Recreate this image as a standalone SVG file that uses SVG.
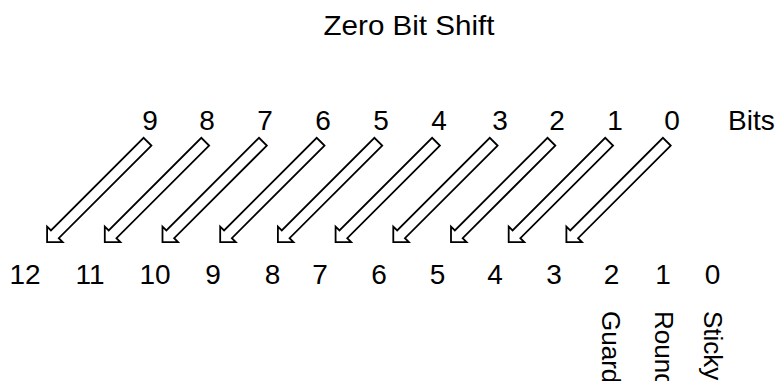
<svg xmlns="http://www.w3.org/2000/svg" xmlns:xlink="http://www.w3.org/1999/xlink" width="777" height="381" viewBox="0 0 777 381">
<style>
text{font-family:"Liberation Sans",Arial,sans-serif;fill:#000}
.d{font-size:28px;text-anchor:middle}
.v{font-size:26px}
.a{fill:#fff;stroke:#000;stroke-width:1.8;stroke-linejoin:miter}
</style>
<defs>
<path id="arr" d="M0,-5.5 H131 V-11 L142,0 L131,11 V5.5 H0 Z"/>
</defs>
<rect width="777" height="381" fill="#fff"/>
<g id="title"><text x="409" y="35" font-size="28" text-anchor="middle" textLength="171" lengthAdjust="spacingAndGlyphs">Zero Bit Shift</text></g>
<g id="top-bits">
<text class="d" x="150" y="130">9</text>
<text class="d" x="207" y="130">8</text>
<text class="d" x="265" y="130">7</text>
<text class="d" x="323" y="130">6</text>
<text class="d" x="381" y="130">5</text>
<text class="d" x="439" y="130">4</text>
<text class="d" x="500" y="130">3</text>
<text class="d" x="557" y="130">2</text>
<text class="d" x="615" y="130">1</text>
<text class="d" x="672" y="130">0</text>
<text x="728" y="129.5" font-size="28">Bits</text>
</g>
<g id="connectors" class="a">
<use xlink:href="#arr" transform="translate(147.5,141.7) rotate(135)"/>
<use xlink:href="#arr" transform="translate(205.2,141.7) rotate(135)"/>
<use xlink:href="#arr" transform="translate(262.9,141.7) rotate(135)"/>
<use xlink:href="#arr" transform="translate(320.6,141.7) rotate(135)"/>
<use xlink:href="#arr" transform="translate(378.3,141.7) rotate(135)"/>
<use xlink:href="#arr" transform="translate(436,141.7) rotate(135)"/>
<use xlink:href="#arr" transform="translate(493.7,141.7) rotate(135)"/>
<use xlink:href="#arr" transform="translate(551.4,141.7) rotate(135)"/>
<use xlink:href="#arr" transform="translate(609.1,141.7) rotate(135)"/>
<use xlink:href="#arr" transform="translate(666.8,141.7) rotate(135)"/>
</g>
<g id="bottom-bits">
<text class="d" x="25" y="284">12</text>
<text class="d" x="90" y="284">11</text>
<text class="d" x="155" y="284">10</text>
<text class="d" x="213" y="284">9</text>
<text class="d" x="272.5" y="284">8</text>
<text class="d" x="320" y="284">7</text>
<text class="d" x="379" y="284">6</text>
<text class="d" x="437.5" y="284">5</text>
<text class="d" x="495" y="284">4</text>
<text class="d" x="554" y="284">3</text>
<text class="d" x="611.5" y="284">2</text>
<text class="d" x="663" y="284">1</text>
<text class="d" x="712.5" y="284">0</text>
</g>
<g id="guard"><text class="v" transform="translate(601.5,311) rotate(90)">Guard</text></g>
<g id="round"><text class="v" transform="translate(654.5,311) rotate(90)">Round</text></g>
<g id="sticky"><text class="v" transform="translate(704,311) rotate(90)">Sticky</text></g>
</svg>
